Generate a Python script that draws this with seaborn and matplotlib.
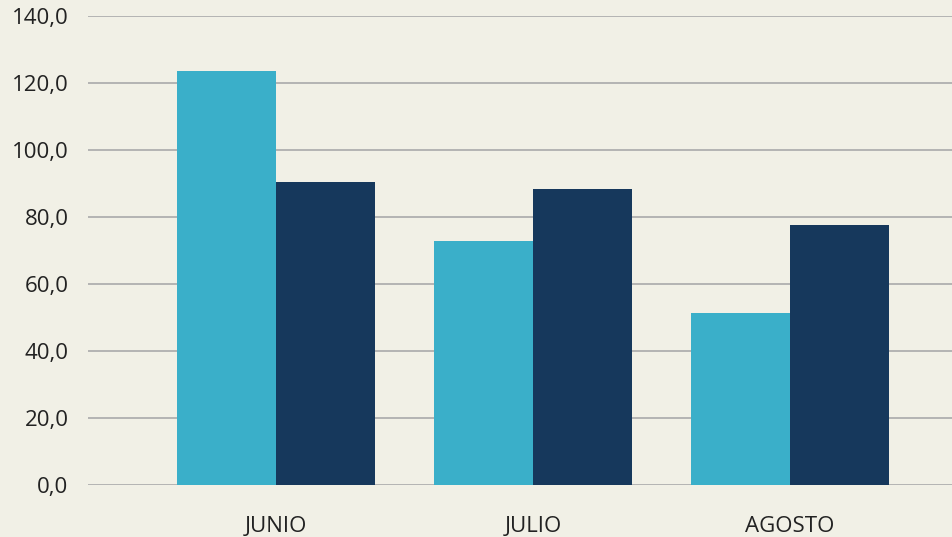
import pandas as pd
import matplotlib.pyplot as plt
import seaborn as sns

# Values
months = ['JUNIO', 'JULIO', 'AGOSTO']
serie_a = [123.6, 72.8, 51.3]
serie_b = [90.4, 88.4, 77.6]
yticks = [0, 20, 40, 60, 80, 100, 120, 140]

df = pd.DataFrame({
    'mes': months * 2,
    'valor': serie_a + serie_b,
    'serie': ['A'] * 3 + ['B'] * 3,
})

bg = '#F1F0E6'
sns.set_style('white')
plt.rcParams['font.family'] = ['Open Sans', 'DejaVu Sans']

fig = plt.figure(figsize=(9.52, 5.37), dpi=100, facecolor=bg)
ax = fig.add_axes([88 / 952, 52 / 537, 1 - 88 / 952, 469 / 537])
ax.set_facecolor(bg)

sns.barplot(data=df, x='mes', y='valor', hue='serie', order=months,
            palette=['#3AAFC9', '#16385C'], width=0.77, saturation=1,
            linewidth=0, legend=False, ax=ax)

ax.set_ylim(0, 140)
ax.set_xlim(-0.7315, 2.63)
ax.set_yticks(yticks)
ax.set_yticklabels([f'{v:.1f}'.replace('.', ',') for v in yticks])
ax.set_axisbelow(True)
ax.yaxis.grid(True, color='#AAAAAA', linewidth=1.2)
ax.xaxis.grid(False)
for s in ax.spines.values():
    s.set_visible(False)
ax.tick_params(axis='y', length=0, pad=14, labelsize=16, labelcolor='#222222')
ax.tick_params(axis='x', length=0, pad=22, labelsize=16, labelcolor='#222222')
ax.set_xlabel('')
ax.set_ylabel('')

plt.savefig('out.png', dpi=100, facecolor=bg)
